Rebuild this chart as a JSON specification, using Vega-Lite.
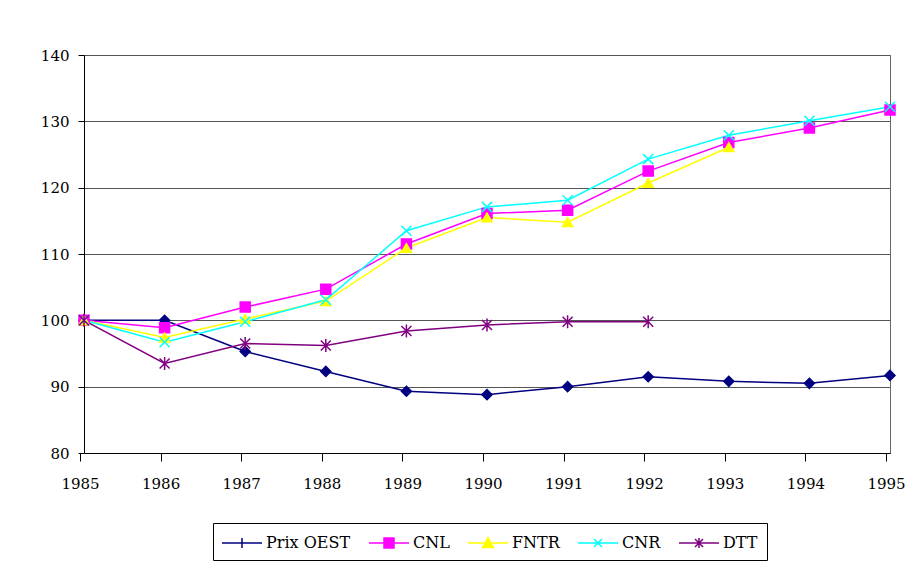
{
  "$schema": "https://vega.github.io/schema/vega-lite/v6.json",
  "width": 806,
  "height": 398,
  "autosize": "none",
  "padding": {"left": 84, "top": 55, "right": 23, "bottom": 112},
  "background": "white",
  "config": {
    "font": "DejaVu Serif",
    "view": {"stroke": "#666", "strokeWidth": 1},
    "axis": {"labelFont": "DejaVu Serif", "labelFontSize": 15, "labelColor": "black", "domainColor": "black", "tickColor": "black", "title": null},
    "legend": {"labelFont": "DejaVu Serif", "labelFontSize": 16, "labelColor": "black"}
  },
  "data": {"values": [
    {"year": 1985, "series": "Prix OEST", "value": 100},
    {"year": 1986, "series": "Prix OEST", "value": 100},
    {"year": 1987, "series": "Prix OEST", "value": 95.3},
    {"year": 1988, "series": "Prix OEST", "value": 92.3},
    {"year": 1989, "series": "Prix OEST", "value": 89.3},
    {"year": 1990, "series": "Prix OEST", "value": 88.8},
    {"year": 1991, "series": "Prix OEST", "value": 90.0},
    {"year": 1992, "series": "Prix OEST", "value": 91.5},
    {"year": 1993, "series": "Prix OEST", "value": 90.8},
    {"year": 1994, "series": "Prix OEST", "value": 90.5},
    {"year": 1995, "series": "Prix OEST", "value": 91.7},
    {"year": 1985, "series": "CNL", "value": 100},
    {"year": 1986, "series": "CNL", "value": 98.9},
    {"year": 1987, "series": "CNL", "value": 102.0},
    {"year": 1988, "series": "CNL", "value": 104.7},
    {"year": 1989, "series": "CNL", "value": 111.5},
    {"year": 1990, "series": "CNL", "value": 116.1},
    {"year": 1991, "series": "CNL", "value": 116.6},
    {"year": 1992, "series": "CNL", "value": 122.5},
    {"year": 1993, "series": "CNL", "value": 126.8},
    {"year": 1994, "series": "CNL", "value": 129.0},
    {"year": 1995, "series": "CNL", "value": 131.7},
    {"year": 1985, "series": "FNTR", "value": 100},
    {"year": 1986, "series": "FNTR", "value": 97.4},
    {"year": 1987, "series": "FNTR", "value": 100.2},
    {"year": 1988, "series": "FNTR", "value": 102.9},
    {"year": 1989, "series": "FNTR", "value": 110.9},
    {"year": 1990, "series": "FNTR", "value": 115.5},
    {"year": 1991, "series": "FNTR", "value": 114.8},
    {"year": 1992, "series": "FNTR", "value": 120.7},
    {"year": 1993, "series": "FNTR", "value": 126.1},
    {"year": 1985, "series": "CNR", "value": 100},
    {"year": 1986, "series": "CNR", "value": 96.7},
    {"year": 1987, "series": "CNR", "value": 99.8},
    {"year": 1988, "series": "CNR", "value": 103.1},
    {"year": 1989, "series": "CNR", "value": 113.5},
    {"year": 1990, "series": "CNR", "value": 117.1},
    {"year": 1991, "series": "CNR", "value": 118.1},
    {"year": 1992, "series": "CNR", "value": 124.3},
    {"year": 1993, "series": "CNR", "value": 127.9},
    {"year": 1994, "series": "CNR", "value": 130.1},
    {"year": 1995, "series": "CNR", "value": 132.2},
    {"year": 1985, "series": "DTT", "value": 100},
    {"year": 1986, "series": "DTT", "value": 93.5},
    {"year": 1987, "series": "DTT", "value": 96.5},
    {"year": 1988, "series": "DTT", "value": 96.2},
    {"year": 1989, "series": "DTT", "value": 98.4},
    {"year": 1990, "series": "DTT", "value": 99.3},
    {"year": 1991, "series": "DTT", "value": 99.8},
    {"year": 1992, "series": "DTT", "value": 99.8}
  ]},
  "encoding": {
    "x": {"field": "year", "type": "quantitative", "scale": {"domain": [1985, 1995], "nice": false, "zero": false},
          "axis": {"values": [1985,1986,1987,1988,1989,1990,1991,1992,1993,1994,1995], "format": "d", "grid": false, "tickSize": 8, "tickOffset": -4, "labelPadding": 15, "labelFlush": false, "labelOverlap": false}},
    "y": {"field": "value", "type": "quantitative", "scale": {"domain": [80, 140], "nice": false, "zero": false},
          "axis": {"values": [80,90,100,110,120,130,140], "grid": true, "gridColor": "#555", "gridOpacity": 1, "tickSize": 6, "labelPadding": 9, "labelFlush": false}}
  },
  "layer": [
    {
      "mark": {"type": "line", "strokeWidth": 1.5},
      "encoding": {
        "color": {"field": "series", "type": "nominal", "legend": null,
                  "scale": {"domain": ["Prix OEST", "CNL", "FNTR", "CNR", "DTT"], "range": ["#000080", "#FF00FF", "#FFFF00", "#00FFFF", "#800080"]}},
        "detail": {"field": "series"}
      }
    },
    {
      "mark": {"type": "point", "filled": true, "size": 100, "strokeWidth": 1.5, "opacity": 1},
      "encoding": {
        "color": {"field": "series", "type": "nominal", "legend": null},
        "stroke": {"field": "series", "type": "nominal", "legend": null,
                   "scale": {"domain": ["Prix OEST", "CNL", "FNTR", "CNR", "DTT"], "range": ["#000080", "#FF00FF", "#FFFF00", "#00FFFF", "#800080"]}},
        "shape": {"field": "series", "type": "nominal", "legend": null,
                  "scale": {"domain": ["Prix OEST", "CNL", "FNTR", "CNR", "DTT"], "range": ["diamond", "square", "triangle-up", "M-1,-1L1,1M-1,1L1,-1", "M-1,-1L1,1M-1,1L1,-1M0,-1.3V1.3"]}}
      }
    },
    {
      "mark": {"type": "point", "filled": true, "opacity": 0, "strokeWidth": 1.5},
      "encoding": {
        "fill": {"field": "series", "type": "nominal",
                 "scale": {"domain": ["Prix OEST", "CNL", "FNTR", "CNR", "DTT"], "range": ["#000080", "#FF00FF", "#FFFF00", "#00FFFF", "#800080"]},
                 "legend": {"title": null, "orient": "none", "direction": "horizontal", "legendX": 129, "legendY": 468,
                             "strokeColor": "black", "padding": 9, "symbolSize": 400, "symbolStrokeWidth": 1.5, "symbolOpacity": 1,
                             "symbolOffset": 9, "labelOffset": 13, "columnPadding": 15}},
        "stroke": {"field": "series", "type": "nominal",
                 "scale": {"domain": ["Prix OEST", "CNL", "FNTR", "CNR", "DTT"], "range": ["#000080", "#FF00FF", "#FFFF00", "#00FFFF", "#800080"]},
                 "legend": {"title": null, "orient": "none", "direction": "horizontal", "legendX": 129, "legendY": 468,
                             "strokeColor": "black", "padding": 9, "symbolSize": 400, "symbolStrokeWidth": 1.5, "symbolOpacity": 1,
                             "symbolOffset": 9, "labelOffset": 13, "columnPadding": 15}},
        "shape": {"field": "series", "type": "nominal",
                  "scale": {"domain": ["Prix OEST", "CNL", "FNTR", "CNR", "DTT"], "range": ["M-2,0H2M0,-0.5V0.5", "M-2,0H2M-0.5,-0.5H0.5V0.5H-0.5Z", "M-2,0H2M0,-0.55L0.55,0.45H-0.55Z", "M-2,0H2M-0.4,-0.4L0.4,0.4M-0.4,0.4L0.4,-0.4", "M-2,0H2M-0.4,-0.4L0.4,0.4M-0.4,0.4L0.4,-0.4M0,-0.5V0.5"]},
                  "legend": {"title": null, "orient": "none", "direction": "horizontal", "legendX": 129, "legendY": 468,
                             "strokeColor": "black", "padding": 9, "symbolSize": 400, "symbolStrokeWidth": 1.5, "symbolOpacity": 1,
                             "symbolOffset": 9, "labelOffset": 13, "columnPadding": 15}}
      }
    }
  ],
  "resolve": {"scale": {"shape": "independent", "fill": "independent", "stroke": "independent"}}
}
